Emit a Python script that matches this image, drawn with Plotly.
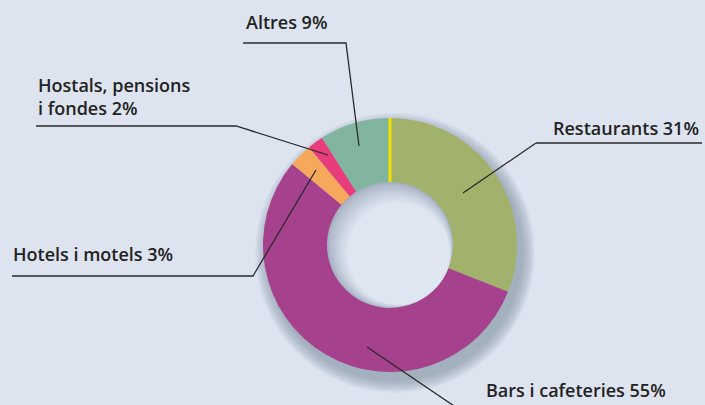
import plotly.graph_objects as go

W, H = 705, 405

sectors = ["Restaurants", "Bars i cafeteries", "Hotels i motels", "Hostals, pensions<br>i fondes", "Altres"]
shares = [31, 55, 3, 2, 9]
colors = ["#a2b16c", "#a6418d", "#f6a95d", "#e83c7c", "#82b5a0"]

BG = "#dde4f0"
CX, CY, R, R_HOLE = 390, 245, 127, 63


def px(x, y):
    return x / W, 1 - y / H


def circle(cx, cy, r, color, opacity=1.0):
    x0, y1 = px(cx - r, cy - r)
    x1, y0 = px(cx + r, cy + r)
    return dict(type="circle", xref="paper", yref="paper", x0=x0, y0=y0, x1=x1, y1=y1,
                fillcolor=color, line={"width": 0}, opacity=opacity, layer="below")


def path(points, color="#2a2a2a", width=1.3):
    d = "M " + " L ".join("%.5f,%.5f" % px(x, y) for x, y in points)
    return dict(type="path", xref="paper", yref="paper", path=d,
                line={"color": color, "width": width}, layer="above")


shapes = []
# soft drop shadow, down and to the right of the ring
for i in range(13, -1, -1):
    shapes.append(circle(CX + 5, CY + 8, R + i, "#8390a6", 0.065))
# inset shading in the hole (darker at top-left)
steps = 12
for i in range(steps + 1):
    t = (i / steps) ** 0.8
    c = tuple(round(a + (b - a) * t) for a, b in zip((166, 177, 194), (223, 230, 241)))
    d = i * 1.0
    shapes.append(circle(CX + d * 0.72, CY + d * 0.72, R_HOLE - d, "rgb(%d,%d,%d)" % c))

# yellow separator at 12 o'clock
x0, y0 = px(CX, CY - R)
x1, y1 = px(CX, CY - R_HOLE)
shapes.append(dict(type="line", xref="paper", yref="paper", x0=x0, y0=y0, x1=x1, y1=y1,
                   line={"color": "#f7e000", "width": 3}, layer="above"))

# leader lines
shapes += [
    path([(536, 143), (702, 143)]),
    path([(536, 143), (463, 193)]),
    path([(367, 347), (460, 410)]),
    path([(12, 276), (253, 276), (316, 170)]),
    path([(36, 126), (236, 126), (328, 155)]),
    path([(243, 43), (346, 43), (359, 146)]),
]

label_pos = [(551, 128), (484, 390), (11, 254), (36, 97), (244, 22)]
annotations = []
for name, share, (lx, ly) in zip(sectors, shares, label_pos):
    ax, ay = px(lx, ly)
    annotations.append(dict(text="%s %d%%" % (name, share), x=ax, y=ay, xref="paper", yref="paper",
                            xanchor="left", yanchor="middle", align="left", showarrow=False,
                            font={"family": "Open Sans", "size": 18, "color": "#222222", "weight": 600}))

dx0, dy1 = px(CX - R, CY - R)
dx1, dy0 = px(CX + R, CY + R)
fig = go.Figure(go.Pie(
    labels=sectors,
    values=shares,
    sort=False,
    direction="clockwise",
    rotation=0,
    hole=R_HOLE / R,
    marker={"colors": colors, "line": {"width": 0}},
    textinfo="none",
    hoverinfo="label+percent",
    domain={"x": [dx0, dx1], "y": [dy0, dy1]},
))

fig.update_layout(
    width=W,
    height=H,
    margin={"l": 0, "r": 0, "t": 0, "b": 0},
    paper_bgcolor=BG,
    plot_bgcolor=BG,
    showlegend=False,
    shapes=shapes,
    annotations=annotations,
)

fig.write_html("out.html", config={"displayModeBar": False},
               post_script="document.body.style.margin='0';")
